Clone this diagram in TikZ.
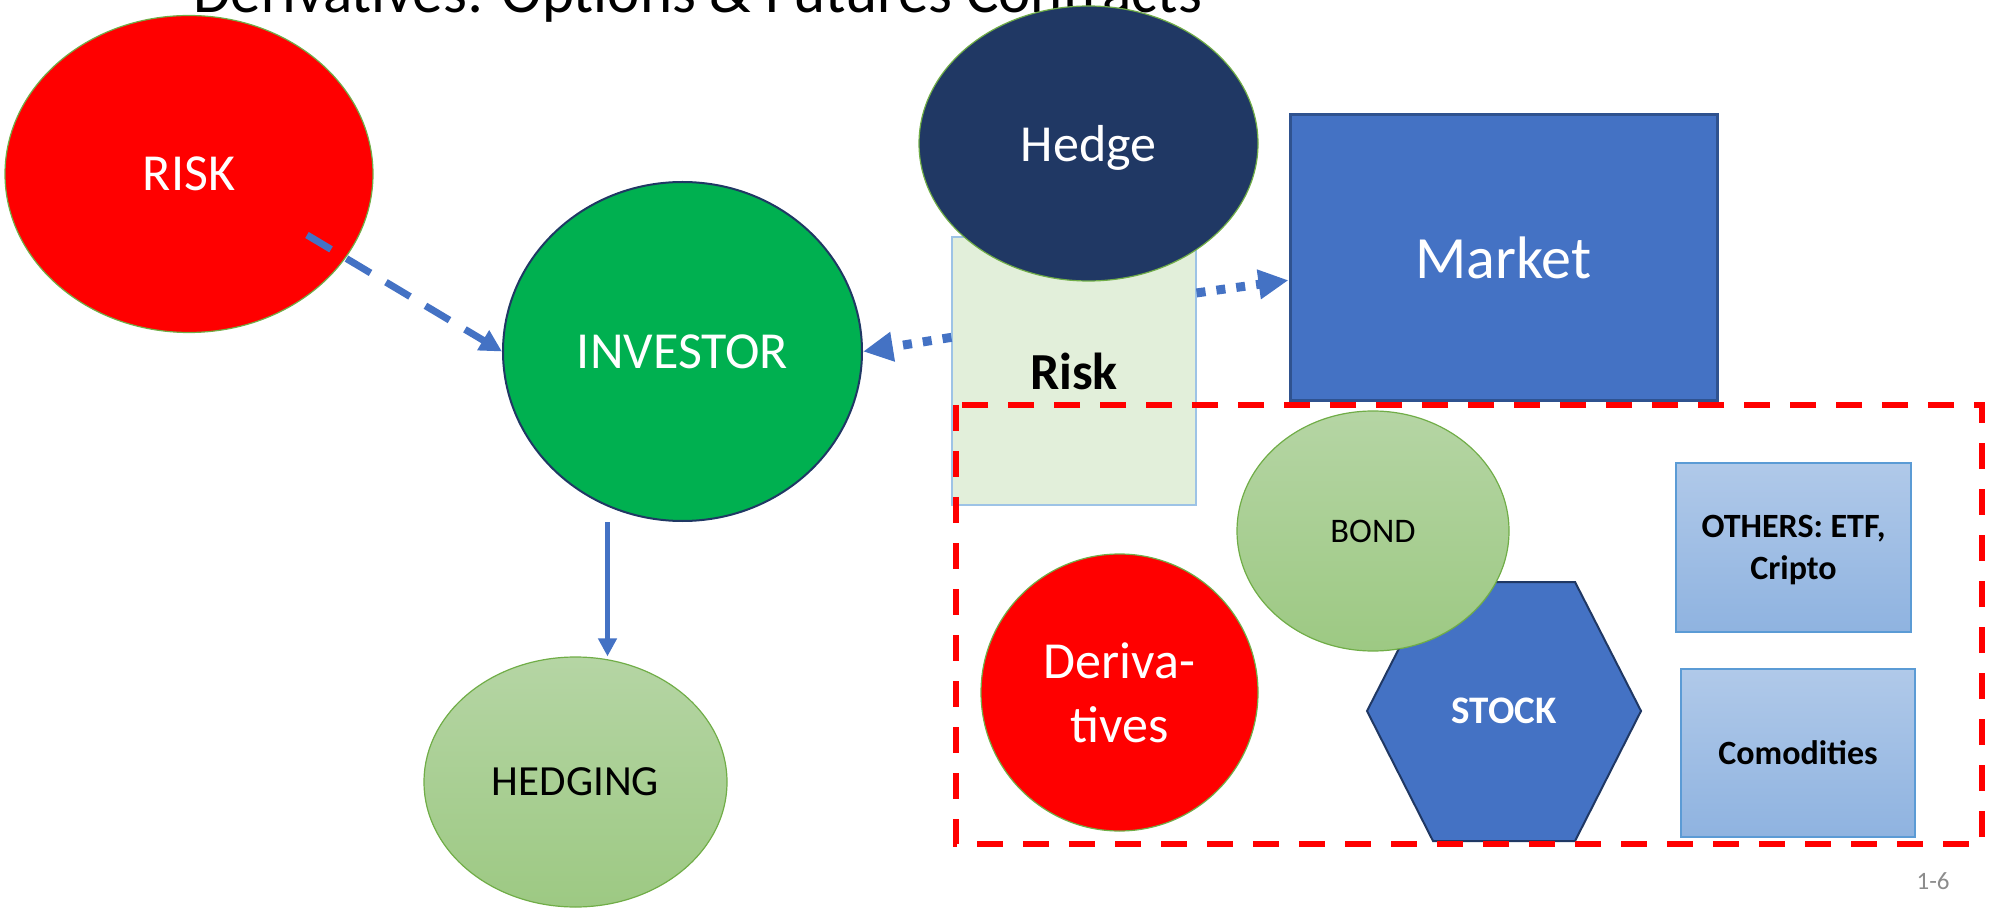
\documentclass[tikz,border=0pt]{standalone}
\usepackage{fontspec}
\setmainfont{Carlito}
\usepackage{tikz}
\usetikzlibrary{shapes,arrows.meta,calc}
\definecolor{accent}{HTML}{4472C4}
\definecolor{navy}{HTML}{203864}
\definecolor{leaf}{HTML}{70AD47}
\definecolor{investgreen}{HTML}{00B050}
\definecolor{mint}{HTML}{E2EFDA}
\definecolor{sky}{HTML}{9DC3E6}
\definecolor{steel}{HTML}{2F528F}
\definecolor{paleblue}{HTML}{B0C9E9}
\definecolor{midblue}{HTML}{8FB3E0}
\definecolor{frameblue}{HTML}{5B9BD5}
\definecolor{palegreen}{HTML}{B5D5A4}
\definecolor{midgreen}{HTML}{9DC983}
\definecolor{slidegray}{HTML}{8C8C8C}
\tikzset{%
  bubble/.style={%
    ellipse,%
    inner sep=0pt,%
    text depth=0pt},
  tile/.style={%
    rectangle,%
    inner sep=0pt,%
    text depth=0pt},
  greenfill/.style={%
    top color=palegreen,%
    bottom color=midgreen,%
    draw=leaf,%
    line width=0.6pt},
  bluefill/.style={%
    top color=paleblue,%
    bottom color=midblue,%
    draw=frameblue,%
    line width=1pt},
  dasharrow/.style={%
    accent,%
    line width=3.5pt,%
    dash pattern=on 14pt off 9pt,%
    -{Triangle[length=11pt,width=11pt]}},
  dotarrow/.style={%
    accent,%
    line width=4.5pt,%
    dash pattern=on 4.5pt off 5.5pt,%
    -{Triangle[length=15pt,width=14pt]}},
  plainarrow/.style={%
    accent,%
    line width=2.5pt,%
    -{Triangle[length=9pt,width=9pt]}}
}

\begin{document}
\begin{tikzpicture}[x=0.5pt,y=-0.5pt,every
        node/.style={font=\fontsize{26pt}{31pt}\selectfont}]
  \useasboundingbox (0,0) rectangle (1990,908);
  \node [anchor=base west,inner sep=0pt,font=\fontsize{30.5pt}{36pt}\selectfont] (title) at (193,13) {Derivatives: Options \& Futures Contracts};
  \node [bubble,fill=red,draw=leaf,line width=0.6pt,text=white,minimum width=184pt,minimum height=158.5pt] (risk) at (189,174) {RISK};
  \node [bubble,fill=investgreen,draw=navy,line width=1pt,text=white,minimum width=179.5pt,minimum height=169.5pt] (investor) at (682.5,351.5) {INVESTOR};
  \node [bubble,greenfill,minimum width=151.5pt,minimum height=125pt,font=\fontsize{21.5pt}{26pt}\selectfont] (hedging) at (575.5,782) {HEDGING};
  \node [tile,fill=mint,draw=sky,line width=0.6pt,minimum width=122pt,minimum height=134pt,font=\fontsize{26pt}{31pt}\selectfont\bfseries] (riskbox) at (1074,371) {Risk};
  \node [bubble,fill=navy,draw=leaf,line width=0.6pt,text=white,minimum width=169.5pt,minimum height=137.5pt] (hedge) at (1088.5,143.5) {Hedge};
  \node [tile,fill=accent,draw=steel,line width=1.5pt,text=white,minimum width=213.5pt,minimum height=143pt,font=\fontsize{30pt}{36pt}\selectfont] (market) at (1503.5,258) {Market};
  % the market pieces
  \draw [fill=accent,draw=navy,line width=1pt] (1433,582) -- (1575,582) -- (1641,711) -- (1575,841) -- (1433,841) -- (1367,711) -- cycle;
  \node [tile,text=white,font=\fontsize{19.5pt}{23pt}\selectfont\bfseries] (stock) at (1504,711) {STOCK};
  \node [bubble,greenfill,minimum width=136pt,minimum height=120pt,font=\fontsize{17.25pt}{21pt}\selectfont] (bond) at (1373,531) {BOND};
  \node [ellipse,inner sep=0pt,fill=red,draw=leaf,line width=0.6pt,text=white,minimum width=138.5pt,minimum height=138.5pt,align=center,font=\fontsize{26pt}{32pt}\selectfont] (deriv) at (1119.5,692.5) {Deriva-\\tives};
  \node [rectangle,inner sep=0pt,bluefill,minimum width=117.5pt,minimum height=84.5pt,align=center,text depth=0pt,font=\fontsize{17pt}{21pt}\selectfont\bfseries] (others) at (1793.5,547.5) {OTHERS: ETF,\\Cripto};
  \node [tile,bluefill,minimum width=117pt,minimum height=84pt,font=\fontsize{17pt}{20pt}\selectfont\bfseries] (comod) at (1798,753) {Comodities};
  \draw [red,line width=3pt,dash pattern=on 13pt off 10pt] (956,405) rectangle (1982,844);
  % connectors
  \coordinate (riskout) at (307,235);
  \coordinate (drop) at ($(investor.south)+(-75,0)$);
  \draw [dasharrow] (riskout) -- (investor.west);
  \draw [dotarrow] ($(riskbox.north west)!0.375!(riskbox.south west)$) -- (investor.east);
  \draw [dotarrow] ($(riskbox.north east)!0.21!(riskbox.south east)$) -- ($(market.north west)!0.577!(market.south west)$);
  \draw [plainarrow] (drop) -- (drop |- hedging.north);
  \node [anchor=base east,inner sep=0pt,text=slidegray,font=\fontsize{12.5pt}{15pt}\selectfont] (page) at (1950,889) {1-6};
\end{tikzpicture}
\end{document}
